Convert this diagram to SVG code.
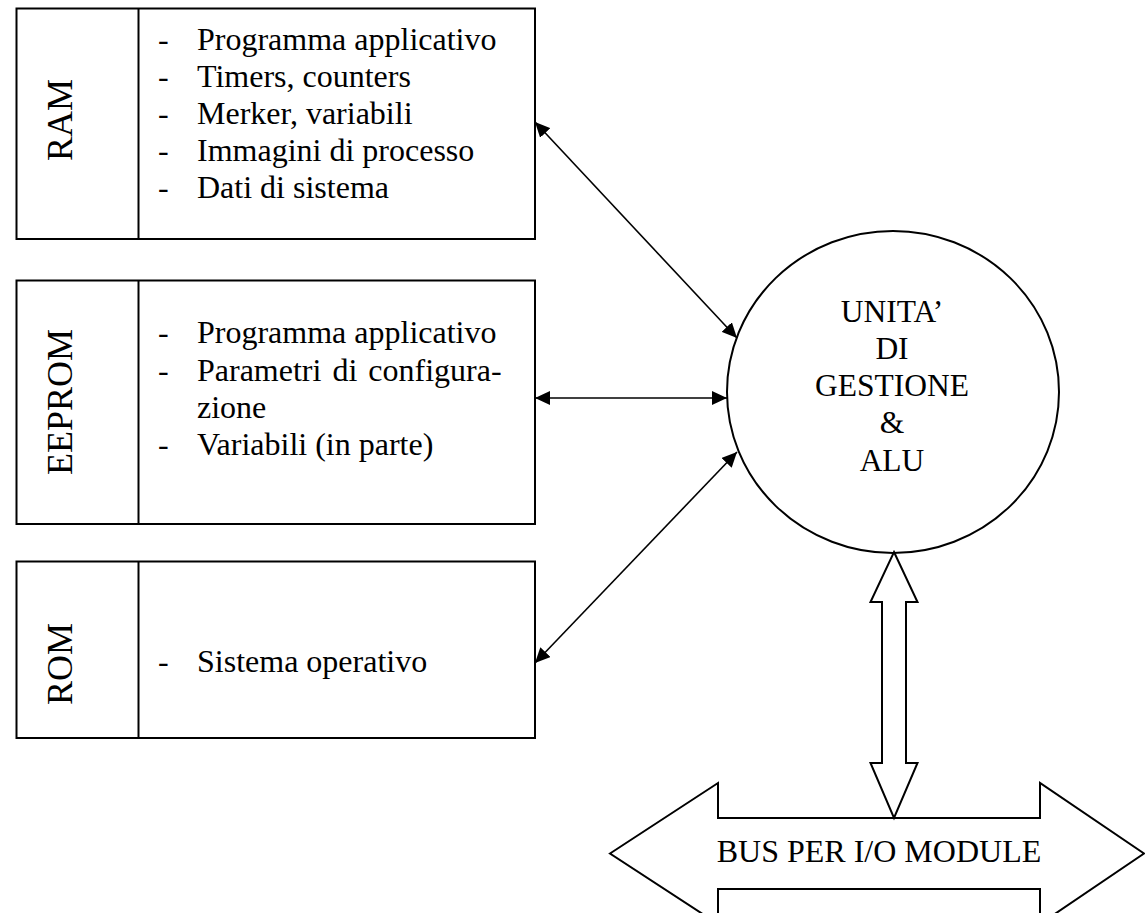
<svg xmlns="http://www.w3.org/2000/svg" width="1145" height="913" viewBox="0 0 1145 913">
  <style>
    text { font-family: "Liberation Serif", "Times New Roman", serif; fill: #000; }
    .box { fill: #fff; stroke: #000; stroke-width: 2; }
    .div { stroke: #000; stroke-width: 2; }
    .lbl { font-size: 36px; text-anchor: middle; }
    .item { font-size: 32px; }
    .cpu { font-size: 31.5px; text-anchor: middle; }
    .link { stroke: #000; stroke-width: 1.6; fill: none; marker-start: url(#head); marker-end: url(#head); }
    .block { fill: #fff; stroke: #000; stroke-width: 2; stroke-linejoin: miter; }
  </style>
  <defs>
    <marker id="head" markerUnits="userSpaceOnUse" markerWidth="16" markerHeight="14" refX="15" refY="7" orient="auto-start-reverse">
      <path d="M0,0 L15,7 L0,14 z" fill="#000"/>
    </marker>
  </defs>

  <rect width="1145" height="913" fill="#fff"/>

  <!-- RAM -->
  <g id="ram">
    <rect class="box" x="16.5" y="8.5" width="518.5" height="230.5"/>
    <line class="div" x1="138.5" y1="8.5" x2="138.5" y2="239"/>
    <text class="lbl" transform="translate(72 120) rotate(-90)">RAM</text>
    <g class="item">
      <text x="158" y="50">-</text><text x="197" y="50">Programma applicativo</text>
      <text x="158" y="87">-</text><text x="197" y="87">Timers, counters</text>
      <text x="158" y="124">-</text><text x="197" y="124">Merker, variabili</text>
      <text x="158" y="161">-</text><text x="197" y="161">Immagini di processo</text>
      <text x="158" y="198">-</text><text x="197" y="198">Dati di sistema</text>
    </g>
  </g>

  <!-- EEPROM -->
  <g id="eeprom">
    <rect class="box" x="16.5" y="280.5" width="518.5" height="243.5"/>
    <line class="div" x1="138.5" y1="280.5" x2="138.5" y2="524"/>
    <text class="lbl" transform="translate(72 402) rotate(-90)">EEPROM</text>
    <g class="item">
      <text x="158" y="343">-</text><text x="197" y="343">Programma applicativo</text>
      <text x="158" y="381">-</text><text x="197" y="381" word-spacing="3">Parametri di configura-</text>
      <text x="197" y="418">zione</text>
      <text x="158" y="455">-</text><text x="197" y="455">Variabili (in parte)</text>
    </g>
  </g>

  <!-- ROM -->
  <g id="rom">
    <rect class="box" x="16.5" y="561.5" width="518.5" height="176.5"/>
    <line class="div" x1="138.5" y1="561.5" x2="138.5" y2="738"/>
    <text class="lbl" transform="translate(72 664) rotate(-90)">ROM</text>
    <g class="item">
      <text x="158" y="672">-</text><text x="197" y="672">Sistema operativo</text>
    </g>
  </g>

  <!-- control unit and ALU -->
  <g id="cpu">
    <ellipse cx="893" cy="392" rx="166" ry="161" fill="#fff" stroke="#000" stroke-width="2"/>
    <text class="cpu" x="892" y="322">UNITA’</text>
    <text class="cpu" x="892" y="359">DI</text>
    <text class="cpu" x="892" y="396">GESTIONE</text>
    <text class="cpu" x="892" y="433">&amp;</text>
    <text class="cpu" x="892" y="471">ALU</text>
  </g>

  <!-- I/O bus -->
  <g id="bus">
    <polygon class="block" points="610,853.5 718,783 718,818 1040,818 1040,783 1144,853.5 1040,924 1040,889 718,889 718,924"/>
    <text x="879" y="862" font-size="32" text-anchor="middle">BUS PER I/O MODULE</text>
  </g>

  <!-- connectors -->
  <g id="connectors">
    <line class="link" x1="535" y1="122" x2="737" y2="338"/>
    <line class="link" x1="535" y1="398" x2="727" y2="398"/>
    <line class="link" x1="535" y1="663" x2="737" y2="452"/>
    <polygon class="block" points="894,552 917.5,602 906,602 906,763 917.5,763 894,818 870.5,763 882,763 882,602 870.5,602"/>
  </g>
</svg>
